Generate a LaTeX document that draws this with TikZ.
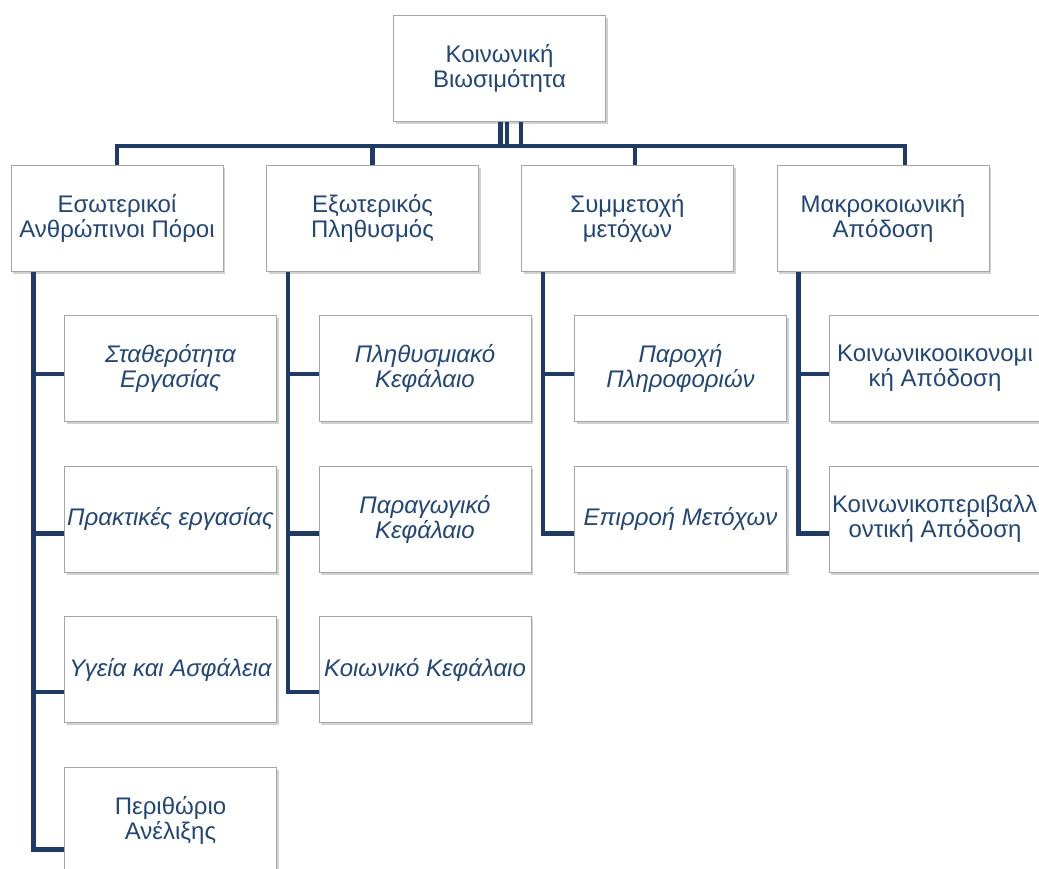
\documentclass[tikz,border=0pt]{standalone}
\usepackage{fontspec}
\setmainfont{Liberation Sans}
\usepackage{tikz}
\usetikzlibrary{positioning}
\usetikzlibrary{shadows}
\definecolor{linkblue}{RGB}{30,58,105}
\definecolor{textblue}{RGB}{33,70,120}
\tikzset{
    box/.style={draw=black!35, fill=white, line width=1pt, minimum width=212pt, minimum height=106pt, inner sep=1pt, align=center, text=textblue, font=\fontsize{24}{25}\selectfont, drop shadow={shadow xshift=2pt, shadow yshift=-2.5pt, opacity=0.3, fill=black!60}},
    subbox/.style={box, font=\fontsize{24}{25}\selectfont\itshape},
    link/.style={draw=linkblue, line width=4.5pt}
}
\begin{document}
\begin{tikzpicture}[x=1pt, y=-1pt, node distance=43.5pt]
        \useasboundingbox (0,0) rectangle (1039,868);
        \clip (0,0) rectangle (1039,868);

        \node(top) [box] at (499.5,68.5) {Κοινωνική\\Βιωσιμότητα};
        \coordinate(bar) at (499.5,146);

        \node(a) [box] at (117,218.5) {Εσωτερικοί\\Ανθρώπινοι Πόροι};
        \node(b) [box] at (372.5,218.5) {Εξωτερικός\\Πληθυσμός};
        \node(c) [box] at (627.5,218.5) {Συμμετοχή\\μετόχων};
        \node(d) [box] at (883,218.5) {Μακροκοιωνική\\Απόδοση};

        \node(a1) [subbox] at (170.5,368.5) {Σταθερότητα\\Εργασίας};
        \node(a2) [subbox, below=of a1] {Πρακτικές εργασίας};
        \node(a3) [subbox, below=of a2] {Υγεία και Ασφάλεια};
        \node(a4) [box, below=of a3] {Περιθώριο\\Ανέλιξης};

        \node(b1) [subbox] at (425,368.5) {Πληθυσμιακό\\Κεφάλαιο};
        \node(b2) [subbox, below=of b1] {Παραγωγικό\\Κεφάλαιο};
        \node(b3) [subbox, below=of b2] {Κοιωνικό Κεφάλαιο};

        \node(c1) [subbox] at (680.5,368.5) {Παροχή\\Πληροφοριών};
        \node(c2) [subbox, below=of c1] {Επιρροή Μετόχων};

        \node(d1) [box] at (935,368.5) {Κοινωνικοοικονομι\\κή Απόδοση};
        \node(d2) [box, below=of d1] {\makebox[206pt][l]{Κοινωνικοπεριβαλλ}\\οντική Απόδοση};

        \draw[link] ([xshift=1pt]top.south) -- ([xshift=1pt]top.south |- bar) -| (a.north);
        \draw[link] ([xshift=7.5pt]top.south) -- ([xshift=7.5pt]top.south |- bar) -| (b.north);
        \draw[link] ([xshift=1pt]top.south) -- ([xshift=1pt]top.south |- bar) -| ([xshift=7.5pt]c.north);
        \draw[link] ([xshift=21.5pt]top.south) -- ([xshift=21.5pt]top.south |- bar) -| ([xshift=22pt]d.north);

        \draw[link] ([xshift=23pt]a.south west) |- ([yshift=-5.5pt]a1.west);
        \draw[link] ([xshift=23pt]a.south west) |- ([yshift=-14.5pt]a2.west);
        \draw[link] ([xshift=23pt]a.south west) |- ([yshift=-22.5pt]a3.west);
        \draw[link] ([xshift=23pt]a.south west) |- ([yshift=-29.5pt]a4.west);

        \draw[link] ([xshift=22pt]b.south west) |- ([yshift=-5.5pt]b1.west);
        \draw[link] ([xshift=22pt]b.south west) |- ([yshift=-14.5pt]b2.west);
        \draw[link] ([xshift=22pt]b.south west) |- ([yshift=-22.5pt]b3.west);

        \draw[link] ([xshift=22pt]c.south west) |- ([yshift=-5.5pt]c1.west);
        \draw[link] ([xshift=22pt]c.south west) |- ([yshift=-14.5pt]c2.west);

        \draw[link] ([xshift=22pt]d.south west) |- ([yshift=-5.5pt]d1.west);
        \draw[link] ([xshift=22pt]d.south west) |- ([yshift=-14.5pt]d2.west);
\end{tikzpicture}
\end{document}
